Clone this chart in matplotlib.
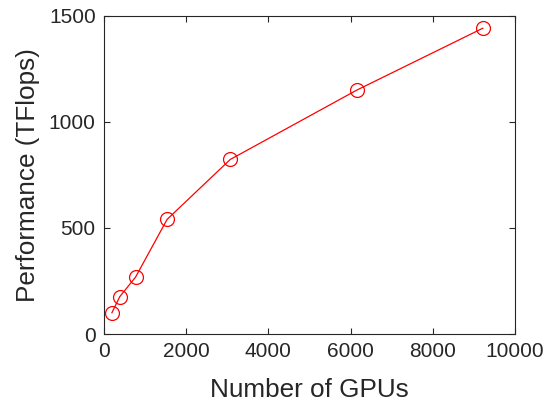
import matplotlib
matplotlib.use("Agg")
import matplotlib.pyplot as plt

gpus = [192, 384, 768, 1536, 3072, 6144, 9216]
tflops = [100, 176, 268, 540, 822, 1148, 1440]
xticks = [0, 2000, 4000, 6000, 8000, 10000]
yticks = [0, 500, 1000, 1500]

plt.rcParams['font.family'] = ['Liberation Sans', 'DejaVu Sans']

fig = plt.figure(figsize=(5.5, 4.07), dpi=100)
ax = fig.add_axes([104/550, 1-334/407, 411/550, 318.5/407])
ax.plot(gpus, tflops, color='#ff0000', lw=0.9, marker='o', markersize=10,
        markerfacecolor='none', markeredgecolor='#ff0000', markeredgewidth=0.9)
ax.set_xlim(0, 10000)
ax.set_ylim(0, 1500)
ax.set_xticks(xticks)
ax.set_yticks(yticks)
ax.tick_params(direction='in', top=True, right=True, labelsize=15, colors='#262626',
               length=4, width=0.8, pad=6)
for s in ax.spines.values():
    s.set_color('#262626')
    s.set_linewidth(0.8)
ax.set_xlabel('Number of GPUs', fontsize=18.8, color='#262626', labelpad=12)
ax.set_ylabel('Performance (TFlops)', fontsize=18.8, color='#262626', labelpad=6)
fig.savefig('out.png', dpi=100)
